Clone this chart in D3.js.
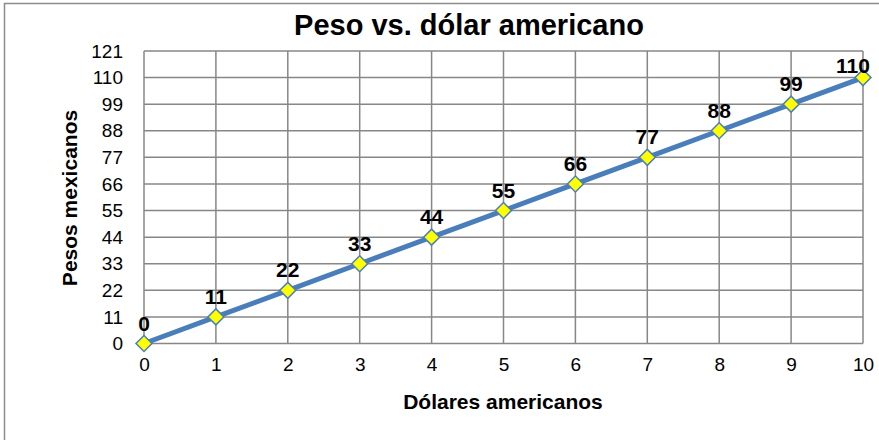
<!DOCTYPE html>
<html>
<head>
<meta charset="utf-8">
<script src="https://cdn.jsdelivr.net/npm/d3@7"></script>
<style>
  html, body { margin: 0; padding: 0; background: #fff; }
  svg { display: block; font-family: Arial, "Liberation Sans", sans-serif; }
</style>
</head>
<body>
<svg id="chart" width="879" height="440"></svg>
<script>
const chartTitle = "Peso vs. dólar americano";
const xTitle = "Dólares americanos";
const yTitle = "Pesos mexicanos";
const dollars = [0, 1, 2, 3, 4, 5, 6, 7, 8, 9, 10];
const pesos = [0, 11, 22, 33, 44, 55, 66, 77, 88, 99, 110];
const yTicks = [0, 11, 22, 33, 44, 55, 66, 77, 88, 99, 110, 121];
const xTicks = [0, 1, 2, 3, 4, 5, 6, 7, 8, 9, 10];

const svg = d3.select("#chart");
const W = 879, H = 440;
const m = { left: 144, right: 16, top: 51, bottom: 96.5 };

// outer chart border
svg.append("rect")
  .attr("x", 4.5).attr("y", 3.5)
  .attr("width", 1000).attr("height", 1000)
  .attr("fill", "none").attr("stroke", "#8c8c8c").attr("stroke-width", 1.5);

const x = d3.scaleLinear().domain([0, 10]).range([m.left, W - m.right]);
const y = d3.scaleLinear().domain([0, 121]).range([H - m.bottom, m.top]);

const gridColor = "#878787";

// horizontal grid
svg.append("g").selectAll("line").data(yTicks).join("line")
  .attr("x1", x(0)).attr("x2", x(10))
  .attr("y1", d => y(d)).attr("y2", d => y(d))
  .attr("stroke", gridColor).attr("stroke-width", 1.5);

// vertical grid
svg.append("g").selectAll("line").data(xTicks).join("line")
  .attr("x1", d => x(d)).attr("x2", d => x(d))
  .attr("y1", y(0)).attr("y2", y(121))
  .attr("stroke", gridColor).attr("stroke-width", 1.5);

// y axis labels
const yAxis = d3.axisLeft(y).tickValues(yTicks).tickSize(0).tickPadding(21);
const gy = svg.append("g").attr("transform", `translate(${x(0)},0)`).call(yAxis);
gy.select(".domain").remove();
gy.selectAll("text").attr("font-size", 19).attr("fill", "#000")
  .attr("font-family", "Arial, 'Liberation Sans', sans-serif");

// x axis labels
const xAxis = d3.axisBottom(x).tickValues(xTicks).tickSize(0).tickPadding(14);
const gx = svg.append("g").attr("transform", `translate(0,${y(0)})`).call(xAxis);
gx.select(".domain").remove();
gx.selectAll("text").attr("font-size", 19).attr("fill", "#000")
  .attr("font-family", "Arial, 'Liberation Sans', sans-serif");

// line
const data = dollars.map((d, i) => ({ x: d, y: pesos[i] }));
svg.append("path").datum(data)
  .attr("fill", "none").attr("stroke", "#4A7EBB").attr("stroke-width", 5)
  .attr("stroke-linejoin", "round")
  .attr("d", d3.line().x(d => x(d.x)).y(d => y(d.y)));

// markers
const sym = d3.symbol(d3.symbolSquare, 128);
svg.append("g").selectAll("path").data(data).join("path")
  .attr("d", sym)
  .attr("transform", d => `translate(${x(d.x)},${y(d.y)}) rotate(45)`)
  .attr("fill", "#FFFF00").attr("stroke", "#4A7EBB").attr("stroke-width", 1.5);

// data labels
svg.append("g").selectAll("text").data(data).join("text")
  .attr("x", d => Math.min(x(d.x), 853))
  .attr("y", d => Math.max(y(d.y) - 13, 73))
  .attr("text-anchor", "middle")
  .attr("font-size", 21).attr("font-weight", "bold").attr("fill", "#000")
  .text(d => d.y);

// title
svg.append("text").attr("x", 469).attr("y", 35)
  .attr("text-anchor", "middle").attr("font-size", 29).attr("font-weight", "bold")
  .text(chartTitle);

// x axis title
svg.append("text").attr("x", 503).attr("y", 409)
  .attr("text-anchor", "middle").attr("font-size", 21).attr("font-weight", "bold")
  .text(xTitle);

// y axis title
svg.append("text").attr("transform", `translate(77,198) rotate(-90)`)
  .attr("text-anchor", "middle").attr("font-size", 21).attr("font-weight", "bold")
  .text(yTitle);
</script>
</body>
</html>
